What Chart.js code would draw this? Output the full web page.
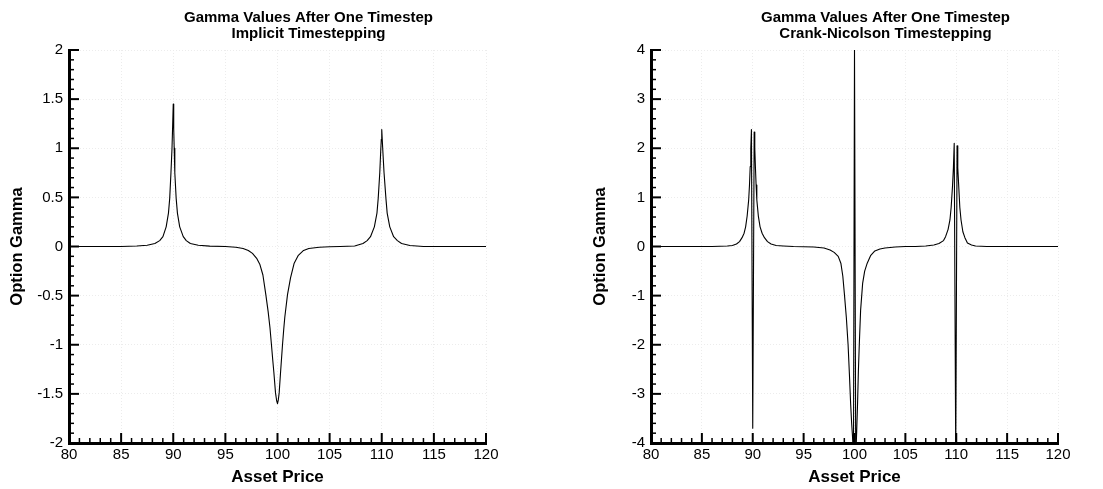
<!DOCTYPE html>
<html>
<head>
<meta charset="utf-8">
<script src="https://cdn.jsdelivr.net/npm/chart.js@4.4.1/dist/chart.umd.min.js"></script>
<style>
  html, body { margin: 0; padding: 0; background: #fff; }
  #wrap { position: relative; width: 1103px; height: 489px; }
  .box { position: absolute; top: 0; height: 489px; }
  #b1 { left: 0; width: 551px; }
  #b2 { left: 551px; width: 552px; }
</style>
</head>
<body>
<div id="wrap">
  <div class="box" id="b1"><canvas id="implicitChart"></canvas></div>
  <div class="box" id="b2"><canvas id="cnChart"></canvas></div>
</div>
<script>
// gamma after one timestep — implicit (left) vs Crank-Nicolson (right)
const xTicks = [80, 85, 90, 95, 100, 105, 110, 115, 120];
const yTicksImplicit = [-2, -1.5, -1, -0.5, 0, 0.5, 1, 1.5, 2];
const yTicksCN = [-4, -3, -2, -1, 0, 1, 2, 3, 4];

const implicitPrice = [
  80, 85, 86.5, 87.5, 88.24, 88.7, 89.01, 89.32, 89.54, 89.66, 89.78, 89.88, 89.94,
  90, 90.045, 90.09, 90.15, 90.28, 90.4, 90.62, 90.96, 91.25, 91.64, 92.4, 93.5, 95,
  96, 96.7, 97.2, 97.6, 98, 98.3, 98.6, 98.88, 99.1, 99.28, 99.42, 99.54, 99.65, 99.81, 99.92,
  100, 100.08, 100.16, 100.3, 100.48, 100.6, 100.7, 100.96, 101.25, 101.6, 102, 102.5, 103, 104, 105,
  106, 107.4, 108.2, 108.6, 108.92, 109.29, 109.54, 109.66, 109.81, 109.9, 109.955,
  110, 110.09, 110.22, 110.4, 110.52, 110.77, 111.14, 111.5, 111.9, 112.7, 114, 120
];
const implicitGamma = [
  0, 0, 0.005, 0.012, 0.03, 0.06, 0.1, 0.2, 0.34, 0.49, 0.75, 1.0, 1.22,
  1.45, 1.2, 1.0, 0.75, 0.49, 0.34, 0.2, 0.1, 0.06, 0.03, 0.012, 0.004, 0,
  -0.008, -0.02, -0.04, -0.07, -0.12, -0.18, -0.29, -0.49, -0.66, -0.83, -1.0, -1.15, -1.28, -1.49, -1.57,
  -1.6, -1.56, -1.49, -1.27, -1.0, -0.84, -0.72, -0.49, -0.32, -0.17, -0.09, -0.04, -0.02, -0.007, -0.003,
  0, 0.005, 0.03, 0.06, 0.1, 0.2, 0.34, 0.49, 0.75, 0.97, 1.09,
  1.19, 1.0, 0.75, 0.49, 0.34, 0.2, 0.1, 0.06, 0.03, 0.01, 0, 0
];

const cnPrice = [
  80, 86, 87.5, 88, 88.4, 88.7, 88.95, 89.15, 89.3, 89.45, 89.6, 89.68, 89.75, 89.81, 89.87,
  90, 90.14, 90.2, 90.26, 90.33, 90.4, 90.55, 90.72, 90.92, 91.15, 91.45, 91.8, 92.3, 93, 94,
  96, 97, 97.6, 98, 98.4, 98.66, 98.85, 99, 99.2, 99.37, 99.5, 99.62, 99.72, 99.8, 99.9,
  100, 100.12, 100.22, 100.3, 100.38, 100.47, 100.6, 100.8, 101, 101.25, 101.6, 102, 102.5, 103, 104, 105, 106,
  107, 107.8, 108.3, 108.75, 108.95, 109.2, 109.38, 109.5, 109.63, 109.72, 109.8,
  109.95, 110.08, 110.15, 110.25, 110.35, 110.47, 110.65, 110.85, 111.1, 111.5, 111.9, 113, 120
];
const cnGamma = [
  0, 0, 0.01, 0.02, 0.05, 0.1, 0.18, 0.27, 0.4, 0.62, 0.95, 1.25, 1.63, 2.0, 2.38,
  -3.7, 2.33, 2.0, 1.63, 1.25, 0.95, 0.62, 0.4, 0.27, 0.18, 0.1, 0.05, 0.02, 0.01, 0,
  -0.01, -0.03, -0.07, -0.12, -0.2, -0.34, -0.6, -0.95, -1.45, -2.0, -2.6, -3.2, -3.6, -3.85, -4.3,
  4.0, -4.3, -3.74, -3.2, -2.55, -2.0, -1.3, -0.75, -0.5, -0.34, -0.18, -0.09, -0.05, -0.03, -0.01, 0, 0,
  0.01, 0.03, 0.06, 0.12, 0.2, 0.35, 0.54, 0.8, 1.22, 1.6, 2.1,
  -4.3, 2.05, 1.6, 1.2, 0.8, 0.54, 0.3, 0.18, 0.07, 0.03, 0.01, 0, 0
];

const FONT = '"Liberation Sans", Arial, Helvetica, sans-serif';

// tecplot-style ticks that point into the plot
const inwardTicks = {
  id: "inwardTicks",
  afterDatasetsDraw(chart, args, o) {
    const { ctx, chartArea: a, scales } = chart;
    ctx.save();
    ctx.strokeStyle = "#000";
    const draw = (scale, minor, major, horiz) => {
      const n = Math.round((scale.max - scale.min) / minor);
      for (let i = 0; i <= n; i++) {
        const v = scale.min + i * minor;
        const r = v / major;
        const isMajor = Math.abs(r - Math.round(r)) < 1e-6;
        const len = isMajor ? 10 : 5;
        ctx.lineWidth = isMajor ? 2 : 1.5;
        const p = scale.getPixelForValue(v);
        ctx.beginPath();
        if (horiz) { ctx.moveTo(p, a.bottom); ctx.lineTo(p, a.bottom - len); }
        else { ctx.moveTo(a.left, p); ctx.lineTo(a.left + len, p); }
        ctx.stroke();
      }
    };
    draw(scales.x, o.xMinor, o.xMajor, true);
    draw(scales.y, o.yMinor, o.yMajor, false);
    ctx.restore();
  },
};

const twoLineTitle = {
  id: "twoLineTitle",
  afterDraw(chart, args, o) {
    const { ctx, chartArea: a } = chart;
    ctx.save();
    ctx.font = "bold 15px " + FONT;
    ctx.fillStyle = "#000";
    ctx.textAlign = "center";
    ctx.textBaseline = "middle";
    const cx = (a.left + a.right) / 2 + 31;
    o.lines.forEach((t, i) => ctx.fillText(t, cx, 18 + i * 16));
    ctx.restore();
  },
};

function makeChart(id, price, gamma, opts) {
  new Chart(document.getElementById(id), {
    type: "line",
    data: {
      datasets: [{
        data: price.map((p, i) => ({ x: p, y: gamma[i] })),
        borderColor: "#000",
        borderWidth: 1.1,
        borderJoinStyle: "round",
        pointRadius: 0,
        tension: 0,
        fill: false,
      }],
    },
    options: {
      responsive: true,
      maintainAspectRatio: false,
      animation: false,
      layout: { padding: { top: 50, bottom: 0, left: opts.padLeft, right: opts.padRight } },
      plugins: {
        legend: { display: false },
        tooltip: { enabled: false },
        inwardTicks: opts.ticks,
        twoLineTitle: { lines: opts.title },
      },
      scales: {
        x: {
          type: "linear",
          min: 80, max: 120,
          afterBuildTicks: (s) => { s.ticks = xTicks.map((v) => ({ value: v })); },
          afterFit: (s) => { s.height = 46; },
          ticks: { color: "#000", font: { family: FONT, size: 15 }, padding: 3, maxRotation: 0, autoSkip: false, callback: (v) => String(v) },
          grid: { color: "#ececec", lineWidth: 1, drawTicks: false },
          border: { color: "#000", width: 3, dash: [1, 2] },
          title: { display: true, text: "Asset Price", color: "#000", font: { family: FONT, size: 17, weight: "bold" }, padding: { top: 0, bottom: 1 } },
        },
        y: {
          min: opts.yTicks[0], max: opts.yTicks[opts.yTicks.length - 1],
          afterBuildTicks: (s) => { s.ticks = opts.yTicks.map((v) => ({ value: v })); },
          afterFit: (s) => { s.width = opts.yWidth; },
          ticks: { color: "#000", font: { family: FONT, size: 15 }, padding: 6, autoSkip: false, callback: (v) => String(+v.toFixed(2)) },
          grid: { color: "#ececec", lineWidth: 1, drawTicks: false },
          border: { color: "#000", width: 3, dash: [1, 2] },
          title: { display: true, text: "Option Gamma", color: "#000", font: { family: FONT, size: 16.5, weight: "bold" }, padding: { top: 8, bottom: 0 } },
        },
      },
    },
    plugins: [inwardTicks, twoLineTitle],
  });
}

makeChart("implicitChart", implicitPrice, implicitGamma, {
  padLeft: 0, padRight: 65, yWidth: 69, yTicks: yTicksImplicit,
  ticks: { xMinor: 1, xMajor: 5, yMinor: 0.1, yMajor: 0.5 },
  title: ["Gamma Values After One Timestep", "Implicit Timestepping"],
});
makeChart("cnChart", cnPrice, cnGamma, {
  padLeft: 32, padRight: 45, yWidth: 68, yTicks: yTicksCN,
  ticks: { xMinor: 1, xMajor: 5, yMinor: 0.2, yMajor: 1 },
  title: ["Gamma Values After One Timestep", "Crank-Nicolson Timestepping"],
});
</script>
</body>
</html>
